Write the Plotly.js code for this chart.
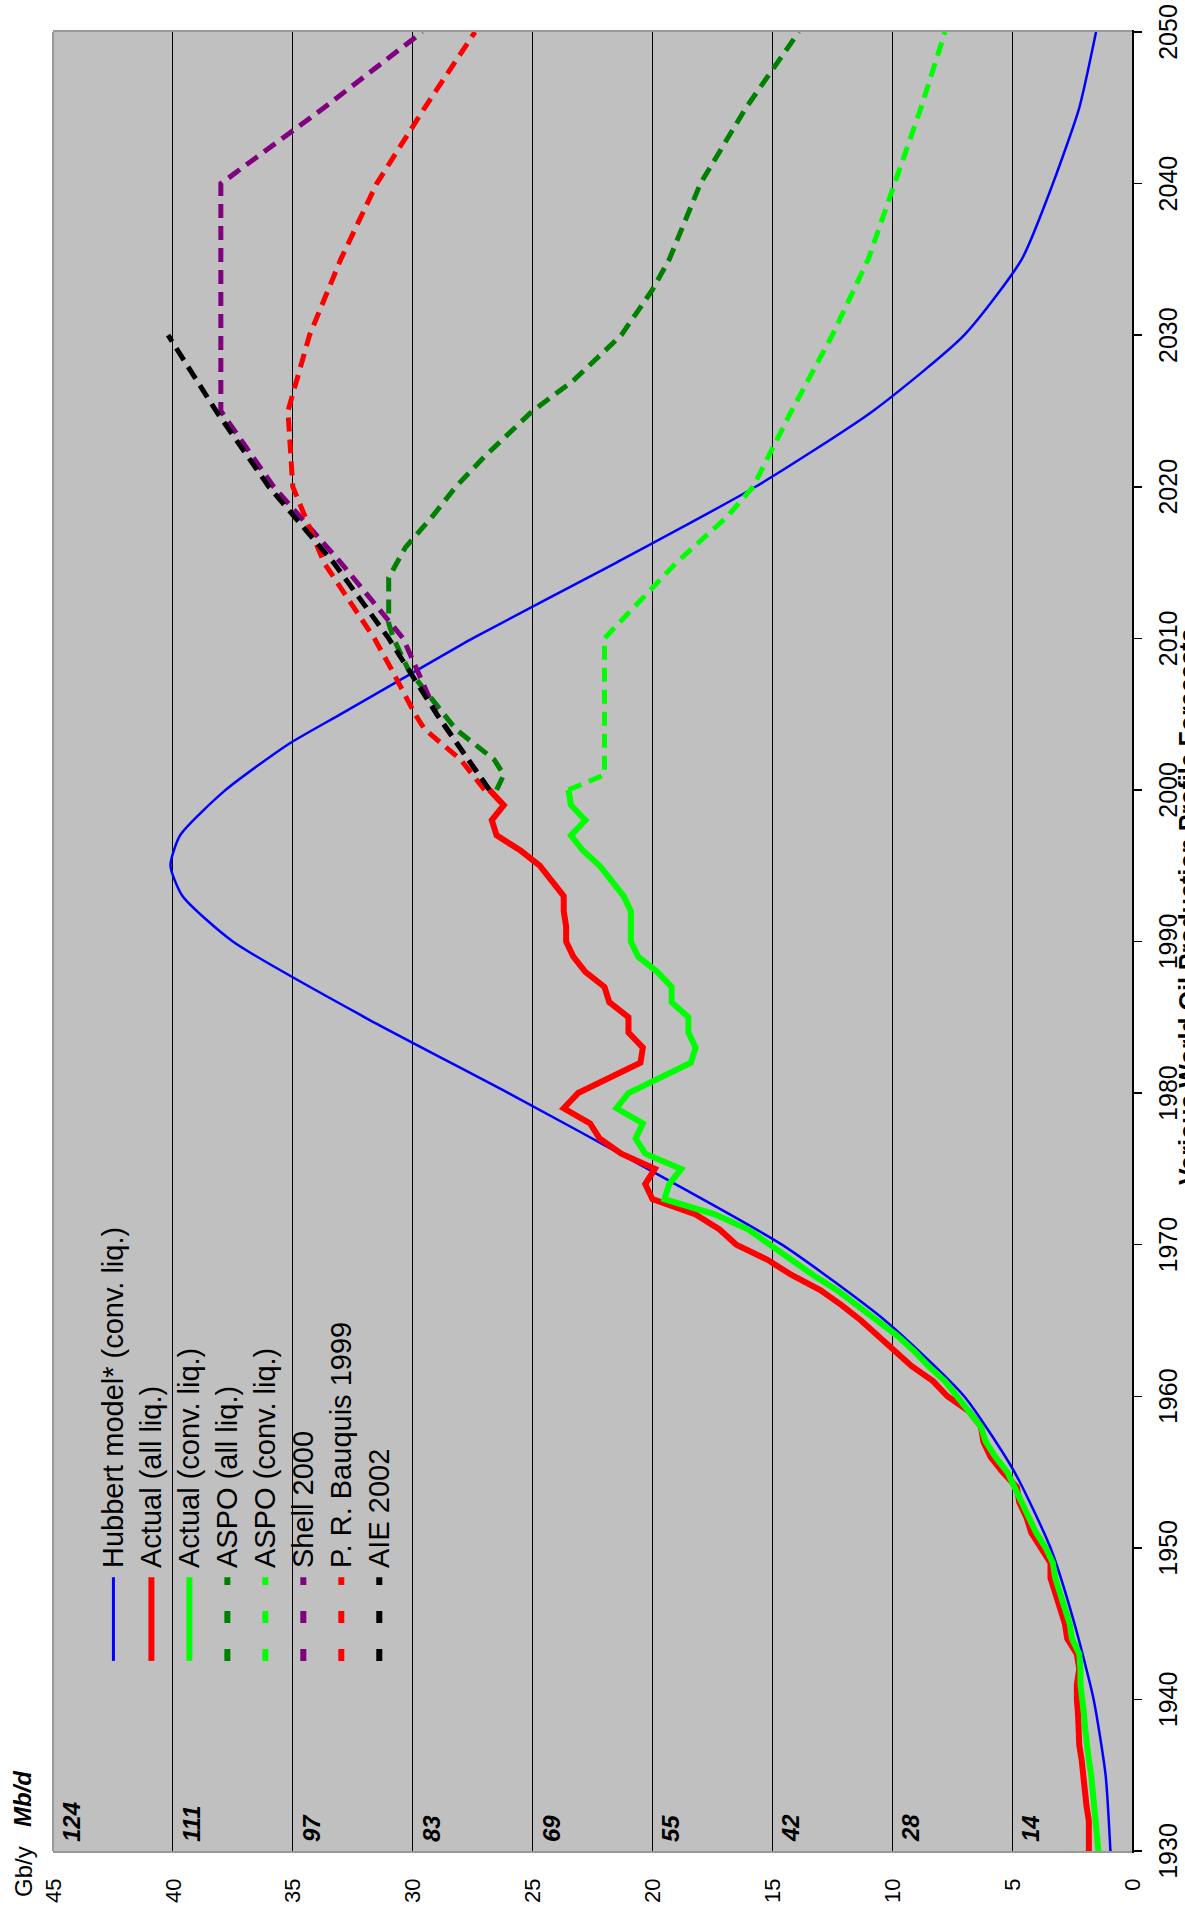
<!DOCTYPE html>
<html><head><meta charset="utf-8">
<script src="https://cdn.plot.ly/plotly-3.0.1.min.js"></script>
<style>
html,body{margin:0;padding:0;background:#fff;overflow:hidden;width:1185px;height:1914px;}
#wrap{position:absolute;left:0;top:1914px;width:1914px;height:1185px;transform-origin:0 0;transform:rotate(-90deg);}
</style></head><body><div id="wrap"></div>
<script>
// ---------- DATA ----------
const titleText = 'Various World Oil Production Profile Forecasts';
const yearTicks = [1930,1940,1950,1960,1970,1980,1990,2000,2010,2020,2030,2040,2050];
const valueTicks = [0,5,10,15,20,25,30,35,40,45];
const mbdLevels = [45,40,35,30,25,20,15,10,5];
const mbdLabels = ['124','111','97','83','69','55','42','28','14'];

const seriesNames = ['Hubbert model* (conv. liq.)','Actual (all liq.)','Actual (conv. liq.)','ASPO (all liq.)','ASPO (conv. liq.)','Shell 2000','P. R. Bauquis 1999','AIE 2002'];

const hubbertYears = [1930,1935,1940,1945,1950,1955,1960,1965,1970,1975,1980,1985,1990,1993,1995,1997,2000,2003,2005,2008,2010,2015,2020,2025,2030,2035,2040,2045,2050];
const hubbertVals  = [0.9,1.1,1.6,2.4,3.4,4.9,7.0,10.3,14.6,20.2,26.0,32.0,37.5,39.6,40.1,39.7,37.8,35.2,33.0,29.7,27.5,21.5,15.7,10.8,7.0,4.6,3.3,2.2,1.5];

const actualYears = [1930,1931,1932,1933,1934,1935,1936,1937,1938,1939,1940,1941,1942,1943,1944,1945,1946,1947,1948,1949,1950,1951,1952,1953,1954,1955,1956,1957,1958,1959,1960,1961,1962,1963,1964,1965,1966,1967,1968,1969,1970,1971,1972,1973,1974,1975,1976,1977,1978,1979,1980,1981,1982,1983,1984,1985,1986,1987,1988,1989,1990,1991,1992,1993,1994,1995,1996,1997,1998,1999,2000];
const actualAllVals = [1.8,1.8,1.8,1.9,1.95,2.0,2.1,2.2,2.2,2.25,2.3,2.3,2.2,2.3,2.7,2.8,3.0,3.2,3.4,3.4,3.8,4.2,4.4,4.7,4.8,5.4,5.9,6.2,6.3,6.8,7.7,8.3,9.2,9.9,10.6,11.3,12.1,13.0,14.2,15.2,16.5,17.2,18.2,20.0,20.3,19.9,21.3,22.2,22.6,23.7,23.1,21.8,20.5,20.4,21.0,21.0,21.8,22.0,22.8,23.3,23.6,23.6,23.7,23.7,24.2,24.7,25.5,26.5,26.7,26.2,26.8];
const actualConvVals = [1.4,1.45,1.5,1.55,1.6,1.7,1.8,1.9,1.95,2.0,2.1,2.15,2.15,2.2,2.5,2.6,2.8,3.0,3.2,3.3,3.6,4.0,4.3,4.6,4.9,5.2,5.7,6.1,6.3,6.8,7.3,7.8,8.5,9.1,9.8,10.6,11.4,12.3,13.3,14.2,15.1,16.0,17.4,19.5,19.3,18.8,20.3,20.7,20.4,21.5,21.0,19.7,18.4,18.2,18.5,18.5,19.2,19.2,19.8,20.6,20.9,20.9,20.9,21.2,21.7,22.2,22.9,23.4,22.8,23.4,23.5];

const aspoAllYears = [2000,2001,2002,2003,2004,2005,2008,2010,2011,2014,2016,2018,2020,2022,2025,2027,2030,2033,2035,2040,2045,2050];
const aspoAllVals  = [26.5,26.2,26.6,27.4,28.2,28.7,30.2,30.8,31.0,31.0,30.3,29.2,28.2,27.0,25.0,23.3,21.3,20.0,19.3,18.0,16.1,13.9];

const aspoConvYears = [2000,2001,2010,2012,2015,2018,2020,2025,2030,2035,2040,2045,2050];
const aspoConvVals  = [23.5,22.0,22.0,20.8,19.0,16.9,15.8,14.2,12.5,11.0,9.9,8.8,7.8];

const shellYears = [2000,2005,2010,2015,2020,2025,2040,2045,2050];
const shellVals  = [26.8,29.0,30.4,33.0,35.8,38.0,38.0,33.7,29.6];

const bauquisYears = [2000,2002,2004,2005,2008,2010,2015,2020,2025,2030,2035,2040,2045,2050];
const bauquisVals  = [27.0,28.0,29.5,29.9,30.9,31.6,33.7,35.0,35.2,34.3,33.0,31.5,29.5,27.4];

const aieYears = [2000,2005,2010,2015,2020,2025,2030];
const aieVals  = [26.8,29.0,31.0,33.3,36.0,38.2,40.2];

// ---------- STYLE ----------
const SANS = '"Liberation Sans", Arial, sans-serif';
const DASH = '14px,8px';
const styles = [
  {color:'#0000ff', width:2.5, dash:'solid'},
  {color:'#ff0000', width:6, dash:'solid'},
  {color:'#00ff00', width:6, dash:'solid'},
  {color:'#008000', width:5, dash:DASH},
  {color:'#00ff00', width:5, dash:DASH},
  {color:'#800080', width:5, dash:DASH},
  {color:'#ff0000', width:5, dash:DASH},
  {color:'#000000', width:5, dash:DASH}
];
const seriesData = [
  [hubbertYears, hubbertVals],
  [actualYears, actualAllVals],
  [actualYears, actualConvVals],
  [aspoAllYears, aspoAllVals],
  [aspoConvYears, aspoConvVals],
  [shellYears, shellVals],
  [bauquisYears, bauquisVals],
  [aieYears, aieVals]
];

const traces = seriesData.map((d,i)=>({
  type:'scatter', mode:'lines', x:d[0], y:d[1], name:seriesNames[i], showlegend:false,
  line:{color:styles[i].color, width:styles[i].width, dash:styles[i].dash, shape: i===0 ? 'spline' : 'linear', smoothing:0.6},
  hoverinfo:'skip'
}));

const shapes = [];
const annotations = [];

// legend background (hides gridlines behind legend)
shapes.push({type:'rect', xref:'paper', yref:'paper', x0:0.0847, x1:0.3524, y0:0.676, y1:0.99, fillcolor:'#c0c0c0', line:{width:0}, layer:'between'});
// top border of plot area
shapes.push({type:'line', xref:'paper', yref:'paper', x0:0, x1:1, y0:1, y1:1, line:{color:'#999999', width:2}, layer:'above'});

// custom legend
const legTop = 0.944, legStep = 0.0352;
seriesNames.forEach((n,i)=>{
  const yy = legTop - i*legStep;
  const st = styles[i];
  shapes.push({type:'line', xref:'paper', yref:'paper', x0:0.1045, x1:0.1505, y0:yy, y1:yy,
    line:{color:st.color, width: st.dash==='solid' ? (i===0 ? 3 : 6) : 6, dash: st.dash==='solid' ? 'solid' : '12px,26px'}, layer:'above'});
  annotations.push({xref:'paper', yref:'paper', x:0.1545, y:yy, xanchor:'left', yanchor:'middle', showarrow:false,
    text:n, font:{family:SANS, size:29, color:'#000'}});
});

// Mb/d labels on each gridline
mbdLevels.forEach((lv,i)=>{
  annotations.push({xref:'paper', yref:'y', x:0, y:lv, xanchor:'left', yanchor:'top', xshift:7, yshift:-3, showarrow:false,
    text:mbdLabels[i], font:{family:SANS, size:24, color:'#000', weight:'bold', style:'italic'}});
});
annotations.push({xref:'paper', yref:'paper', x:0.029, y:1.0287, xanchor:'center', yanchor:'middle', showarrow:false,
  text:'Mb/d', font:{family:SANS, size:24, color:'#000', weight:'bold', style:'italic'}});
annotations.push({xref:'paper', yref:'paper', x:-0.011, y:1.0269, xanchor:'center', yanchor:'middle', showarrow:false,
  text:'Gb/y', font:{family:SANS, size:24, color:'#000'}});
// title (sits below the year axis, partly beyond the page edge as in the reference)
annotations.push({xref:'paper', yref:'paper', x:0.5195, y:-0.037, xanchor:'center', yanchor:'top', showarrow:false,
  text:titleText, font:{family:SANS, size:25, color:'#000', weight:'bold'}});

const layout = {
  width:1914, height:1185,
  margin:{l:63, r:32, t:53, b:53, pad:0},
  paper_bgcolor:'#ffffff', plot_bgcolor:'#c0c0c0',
  showlegend:false,
  xaxis:{range:[1930,2050], tickmode:'array', tickvals:yearTicks, ticktext:yearTicks.map(String),
    ticks:'outside', ticklen:8, tickwidth:1.5, tickcolor:'#000', showline:true, linecolor:'#000', linewidth:2,
    showgrid:false, zeroline:false, tickfont:{family:SANS, size:25, color:'#000'}, ticklabelstandoff:5},
  yaxis:{range:[0,45], tickmode:'array', tickvals:valueTicks, ticktext:valueTicks.map(String),
    ticks:'', showgrid:true, gridcolor:'#000', gridwidth:1, showline:true, linecolor:'#999999', linewidth:2, mirror:true,
    zeroline:false, tickfont:{family:SANS, size:22, color:'#000'}, ticklabelstandoff:21},
  shapes:shapes, annotations:annotations
};

Plotly.newPlot('wrap', traces, layout, {staticPlot:true, displayModeBar:false});
</script></body></html>
